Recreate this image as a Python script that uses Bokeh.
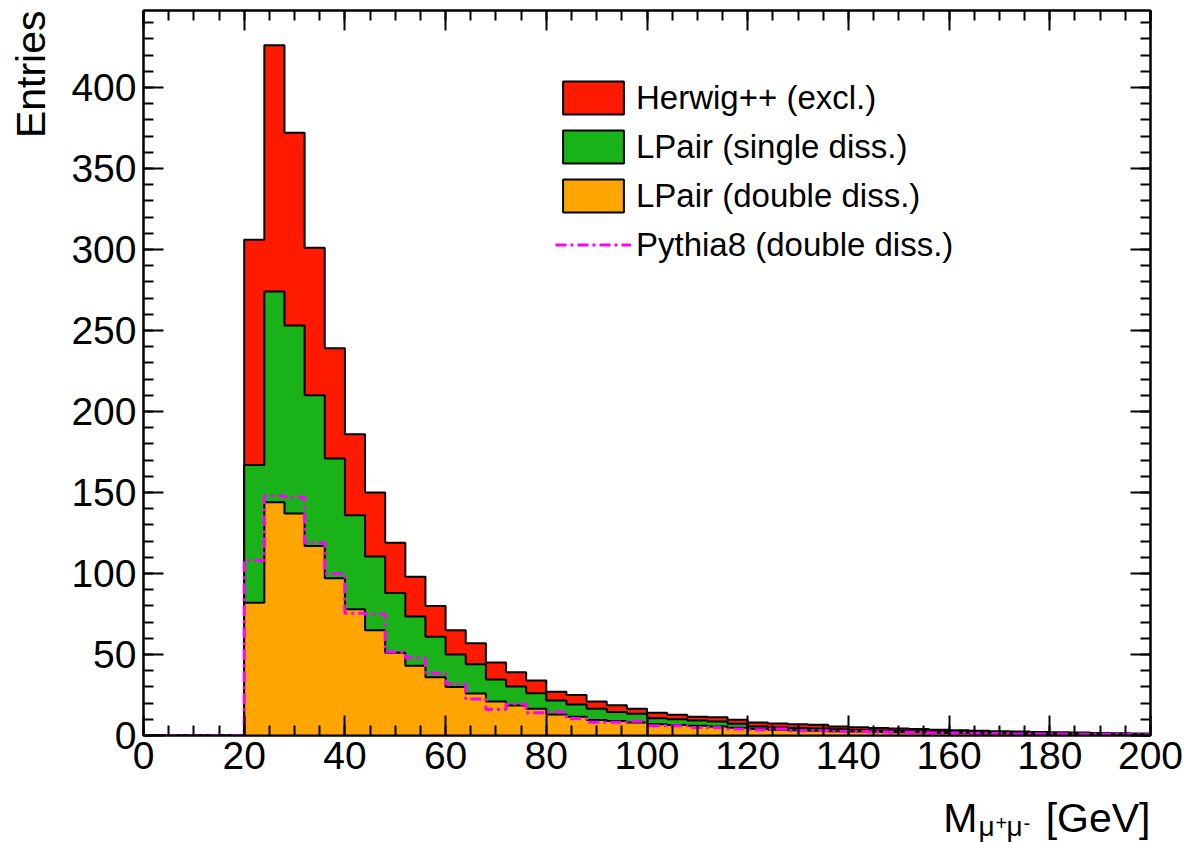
import numpy as np
from bokeh.plotting import figure
from bokeh.models import (Range1d, SingleIntervalTicker, LinearAxis, Label, Legend,
                          LegendItem, CustomJSTickFormatter)
from bokeh.embed import file_html
from bokeh.resources import INLINE

# ---------------- data ----------------
bin_width = 4
bin_low = list(range(0, 200, bin_width))   # 50 bins, 0..196 GeV

herwig_excl = [0, 0, 0, 0, 0,
               139, 152, 119, 91, 68, 50, 39.5, 31, 24.5, 19,
               15, 13, 10.4, 8.8, 7.9, 5.4, 5.9, 4.5, 4.2, 3.0,
               3.3, 2.7, 2.2, 2.6, 2.5, 2.4, 2.4, 2.3, 2.3, 1.8,
               1.7, 1.6, 1.4, 1.4, 1.3, 1.2, 1.1, 1.0, 0.9, 0.8,
               0.7, 0.7, 0.6, 0.5, 0.4]
lpair_single = [0, 0, 0, 0, 0,
                85, 130, 116, 93, 74, 58, 45.5, 37, 30.5, 25,
                20, 18, 13.6, 11.7, 9.6, 8.6, 7.6, 7.0, 5.5, 5.5,
                3.7, 3.6, 3.3, 3.1, 2.4, 1.6, 1.4, 1.4, 1.3, 1.1,
                1.0, 0.9, 0.9, 0.8, 0.7, 0.6, 0.6, 0.5, 0.5, 0.4,
                0.4, 0.3, 0.3, 0.3, 0.2]
lpair_double = [0, 0, 0, 0, 0,
                82, 144, 137, 117, 97, 78, 65, 51, 43, 36,
                30, 26, 21, 18.5, 16.5, 13, 11.5, 9.5, 9.0, 8.0,
                7.0, 6.5, 6.0, 5.5, 4.8, 4.0, 3.6, 3.3, 3.0, 2.7,
                2.4, 2.2, 2.0, 1.8, 1.6, 1.5, 1.3, 1.2, 1.1, 1.0,
                0.9, 0.8, 0.7, 0.6, 0.6]
pythia8_double = [0, 0, 0, 0, 0,
                  108, 148, 147, 119, 100, 75.5, 75, 51.5, 48, 38.5,
                  32, 22.5, 16, 19.5, 14, 14.5, 10.5, 8.2, 8.2, 8.8,
                  6.0, 6.0, 5.0, 5.0, 4.0, 3.5, 4.0, 3.0, 3.0, 2.5,
                  2.5, 2.2, 2.0, 1.8, 1.5, 1.5, 1.3, 1.2, 1.0, 1.0,
                  0.9, 0.8, 0.7, 0.6, 0.5]

series_names = ["Herwig++ (excl.)", "LPair (single diss.)", "LPair (double diss.)",
                "Pythia8 (double diss.)"]
x_ticks_step = 20
y_ticks_step = 50

# ---------------- styling ----------------
RED = "#ff1a00"
GREEN = "#19b319"
ORANGE = "#ffa500"
MAGENTA = "#ff00ff"
FONT = "Liberation Sans"

edges = np.array(bin_low + [bin_low[-1] + bin_width], dtype=float)
lefts = edges[:-1]
rights = edges[1:]
s_double = np.array(lpair_double, dtype=float)
s_single = s_double + np.array(lpair_single, dtype=float)
s_total = s_single + np.array(herwig_excl, dtype=float)
pyth = np.array(pythia8_double, dtype=float)


def stepy(v):
    return np.append(v, v[-1])


p = figure(width=1191, height=842, x_range=Range1d(0, 200), y_range=Range1d(0, 447.5),
           output_backend="svg", toolbar_location=None,
           min_border_left=143, min_border_right=41, min_border_top=10, min_border_bottom=107)
p.grid.visible = False
p.outline_line_color = "black"
p.outline_line_width = 2
p.background_fill_color = "white"
p.border_fill_color = "white"

# stacked histograms: total first, then covered by lower components
leg_proxies = []
for vals, col in [(s_total, RED), (s_single, GREEN), (s_double, ORANGE)]:
    p.varea_step(x=edges, y1=np.zeros(len(edges)), y2=stepy(vals), step_mode="after",
                 fill_color=col)
    p.step(x=edges, y=stepy(vals), mode="after", line_color="black", line_width=2)
    proxy = p.quad(left=lefts, right=rights, top=vals, bottom=np.zeros(len(vals)),
                   fill_color=col, line_color="black", line_width=2)
    proxy.visible = False
    leg_proxies.append(proxy)

r_pyth = p.step(x=edges, y=stepy(pyth), mode="after", line_color=MAGENTA, line_width=3,
                line_dash="11 4 3 4")

legend = Legend(items=[LegendItem(label=series_names[0], renderers=[leg_proxies[0]]),
                       LegendItem(label=series_names[1], renderers=[leg_proxies[1]]),
                       LegendItem(label=series_names[2], renderers=[leg_proxies[2]]),
                       LegendItem(label=series_names[3], renderers=[r_pyth])],
                location=(412, 470), padding=0, margin=0, spacing=8,
                glyph_width=76, glyph_height=41, label_height=41, label_standoff=5,
                border_line_color=None, background_fill_alpha=0,
                inactive_fill_alpha=0,
                label_text_font=FONT, label_text_font_size="33px",
                label_text_color="black")
p.add_layout(legend, "center")

# axes
for ax, interval, minors in [(p.xaxis[0], x_ticks_step, 4), (p.yaxis[0], y_ticks_step, 5)]:
    ax.ticker = SingleIntervalTicker(interval=interval, num_minor_ticks=minors)
    ax.major_tick_in = 20
    ax.major_tick_out = 0
    ax.minor_tick_in = 10
    ax.minor_tick_out = 0
    ax.major_tick_line_width = 2
    ax.minor_tick_line_width = 2
    ax.axis_line_width = 2
    ax.major_label_text_font = FONT
    ax.major_label_text_font_size = "39px"
    ax.major_label_text_color = "black"
p.xaxis[0].major_label_standoff = 6
p.yaxis[0].major_label_standoff = 7

for loc, interval, minors in [("above", x_ticks_step, 4), ("right", y_ticks_step, 5)]:
    ax = LinearAxis(ticker=SingleIntervalTicker(interval=interval, num_minor_ticks=minors),
                    formatter=CustomJSTickFormatter(code="return ''"))
    ax.major_tick_in = 20
    ax.major_tick_out = 0
    ax.minor_tick_in = 10
    ax.minor_tick_out = 0
    ax.major_tick_line_width = 2
    ax.minor_tick_line_width = 2
    ax.axis_line_width = 2
    ax.major_label_standoff = 0
    ax.major_label_text_font_size = "1px"
    p.add_layout(ax, loc)


def title_piece(text, size, dx, dy, place, align="left", x=200, y=0, angle=0.0):
    # side-panel labels (not clipped by the frame), positioned in data units + pixel offsets
    lab = Label(x=x, y=y, x_units="data", y_units="data", x_offset=dx, y_offset=dy,
                text=text, angle=angle, text_align=align, text_baseline="middle",
                text_font=FONT, text_font_size=size, text_color="black")
    p.add_layout(lab, place)


# y title, top-aligned like ROOT
title_piece("Entries", "41px", -113, 0, "left", align="right", x=0, y=447.5, angle=np.pi / 2)
# x title  M_{mu^+ mu^-} [GeV], right-aligned at the axis end
title_piece("M" + "\u00a0" * 6 + "[GeV]", "41px", 0, -82, "below", align="right")
title_piece("\u03bc", "28px", -172, -91, "right")
title_piece("+", "20px", -155, -87, "right")
title_piece("\u03bc", "28px", -144, -91, "left")
title_piece("-", "20px", -127, -87, "right")

open("out.html", "w").write(file_html(p, INLINE))
